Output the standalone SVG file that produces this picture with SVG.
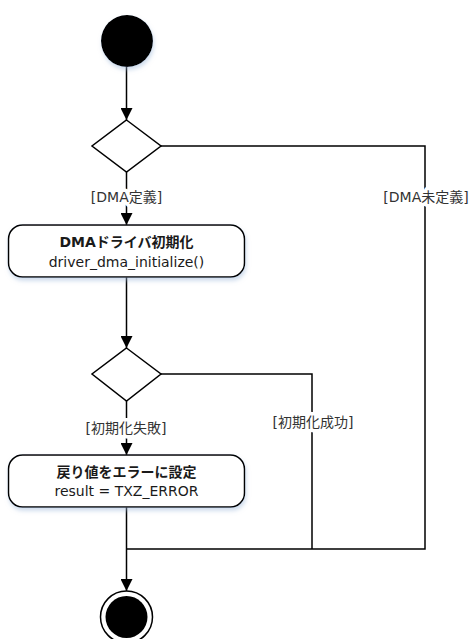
<svg xmlns="http://www.w3.org/2000/svg" width="475" height="639" viewBox="0 0 475 639">
<style>
text{font-family:"DejaVu Sans","Noto Sans CJK JP",sans-serif;font-size:14px;fill:#1a1a1a;text-anchor:middle}
.b{font-weight:bold}
.lbl{fill:#333;stroke:#fff;stroke-width:7;paint-order:stroke;stroke-linejoin:round}
.node{fill:#fff;stroke:#000;stroke-width:1.5}
.edge{fill:none;stroke:#000;stroke-width:1.5}
</style>
<defs>
<marker id="arr" viewBox="0 0 12 12" refX="12" refY="6" markerWidth="12" markerHeight="12" markerUnits="userSpaceOnUse" orient="auto">
<path d="M0,0 L12,6 L0,12 Z" fill="#000"/>
</marker>
<filter id="sh" x="-20%" y="-20%" width="140%" height="150%">
<feDropShadow dx="1" dy="3" stdDeviation="2" flood-color="#9db8d9" flood-opacity="0.5"/>
</filter>
</defs>
<g id="connectors">
<line class="edge" x1="126.5" y1="67" x2="126.5" y2="120" marker-end="url(#arr)"/>
<line class="edge" x1="126.5" y1="172" x2="126.5" y2="225" marker-end="url(#arr)"/>
<polyline class="edge" points="161,146 425,146 425,549 126.5,549"/>
<line class="edge" x1="126.5" y1="277" x2="126.5" y2="348" marker-end="url(#arr)"/>
<line class="edge" x1="126.5" y1="401" x2="126.5" y2="455" marker-end="url(#arr)"/>
<polyline class="edge" points="161,374 312,374 312,549"/>
<line class="edge" x1="126.5" y1="507" x2="126.5" y2="591" marker-end="url(#arr)"/>
<text class="lbl" x="126.5" y="202">[DMA定義]</text>
<text class="lbl" x="426" y="202">[DMA未定義]</text>
<text class="lbl" x="126" y="433">[初期化失敗]</text>
<text class="lbl" x="313" y="427">[初期化成功]</text>
</g>
<g id="start">
<circle cx="127" cy="41" r="26" fill="#000" filter="url(#sh)"/>
</g>
<g id="decision1">
<polygon class="node" points="126.5,120 161,146 126.5,172 92,146"/>
</g>
<g id="init">
<rect class="node" x="8.5" y="225" width="236" height="52" rx="14" filter="url(#sh)"/>
<text class="b" x="126.5" y="247">DMAドライバ初期化</text>
<text x="126.5" y="266.5">driver_dma_initialize()</text>
</g>
<g id="decision2">
<polygon class="node" points="126.5,348 161,374 126.5,401 92,374"/>
</g>
<g id="seterror">
<rect class="node" x="8.5" y="455" width="236" height="52" rx="14" filter="url(#sh)"/>
<text class="b" x="126.5" y="477">戻り値をエラーに設定</text>
<text x="126.5" y="495.5">result = TXZ_ERROR</text>
</g>
<g id="end">
<circle cx="126.5" cy="617" r="26" fill="#fff" stroke="#000" stroke-width="1.5"/>
<circle cx="126.5" cy="617" r="21" fill="#000"/>
</g>
</svg>
